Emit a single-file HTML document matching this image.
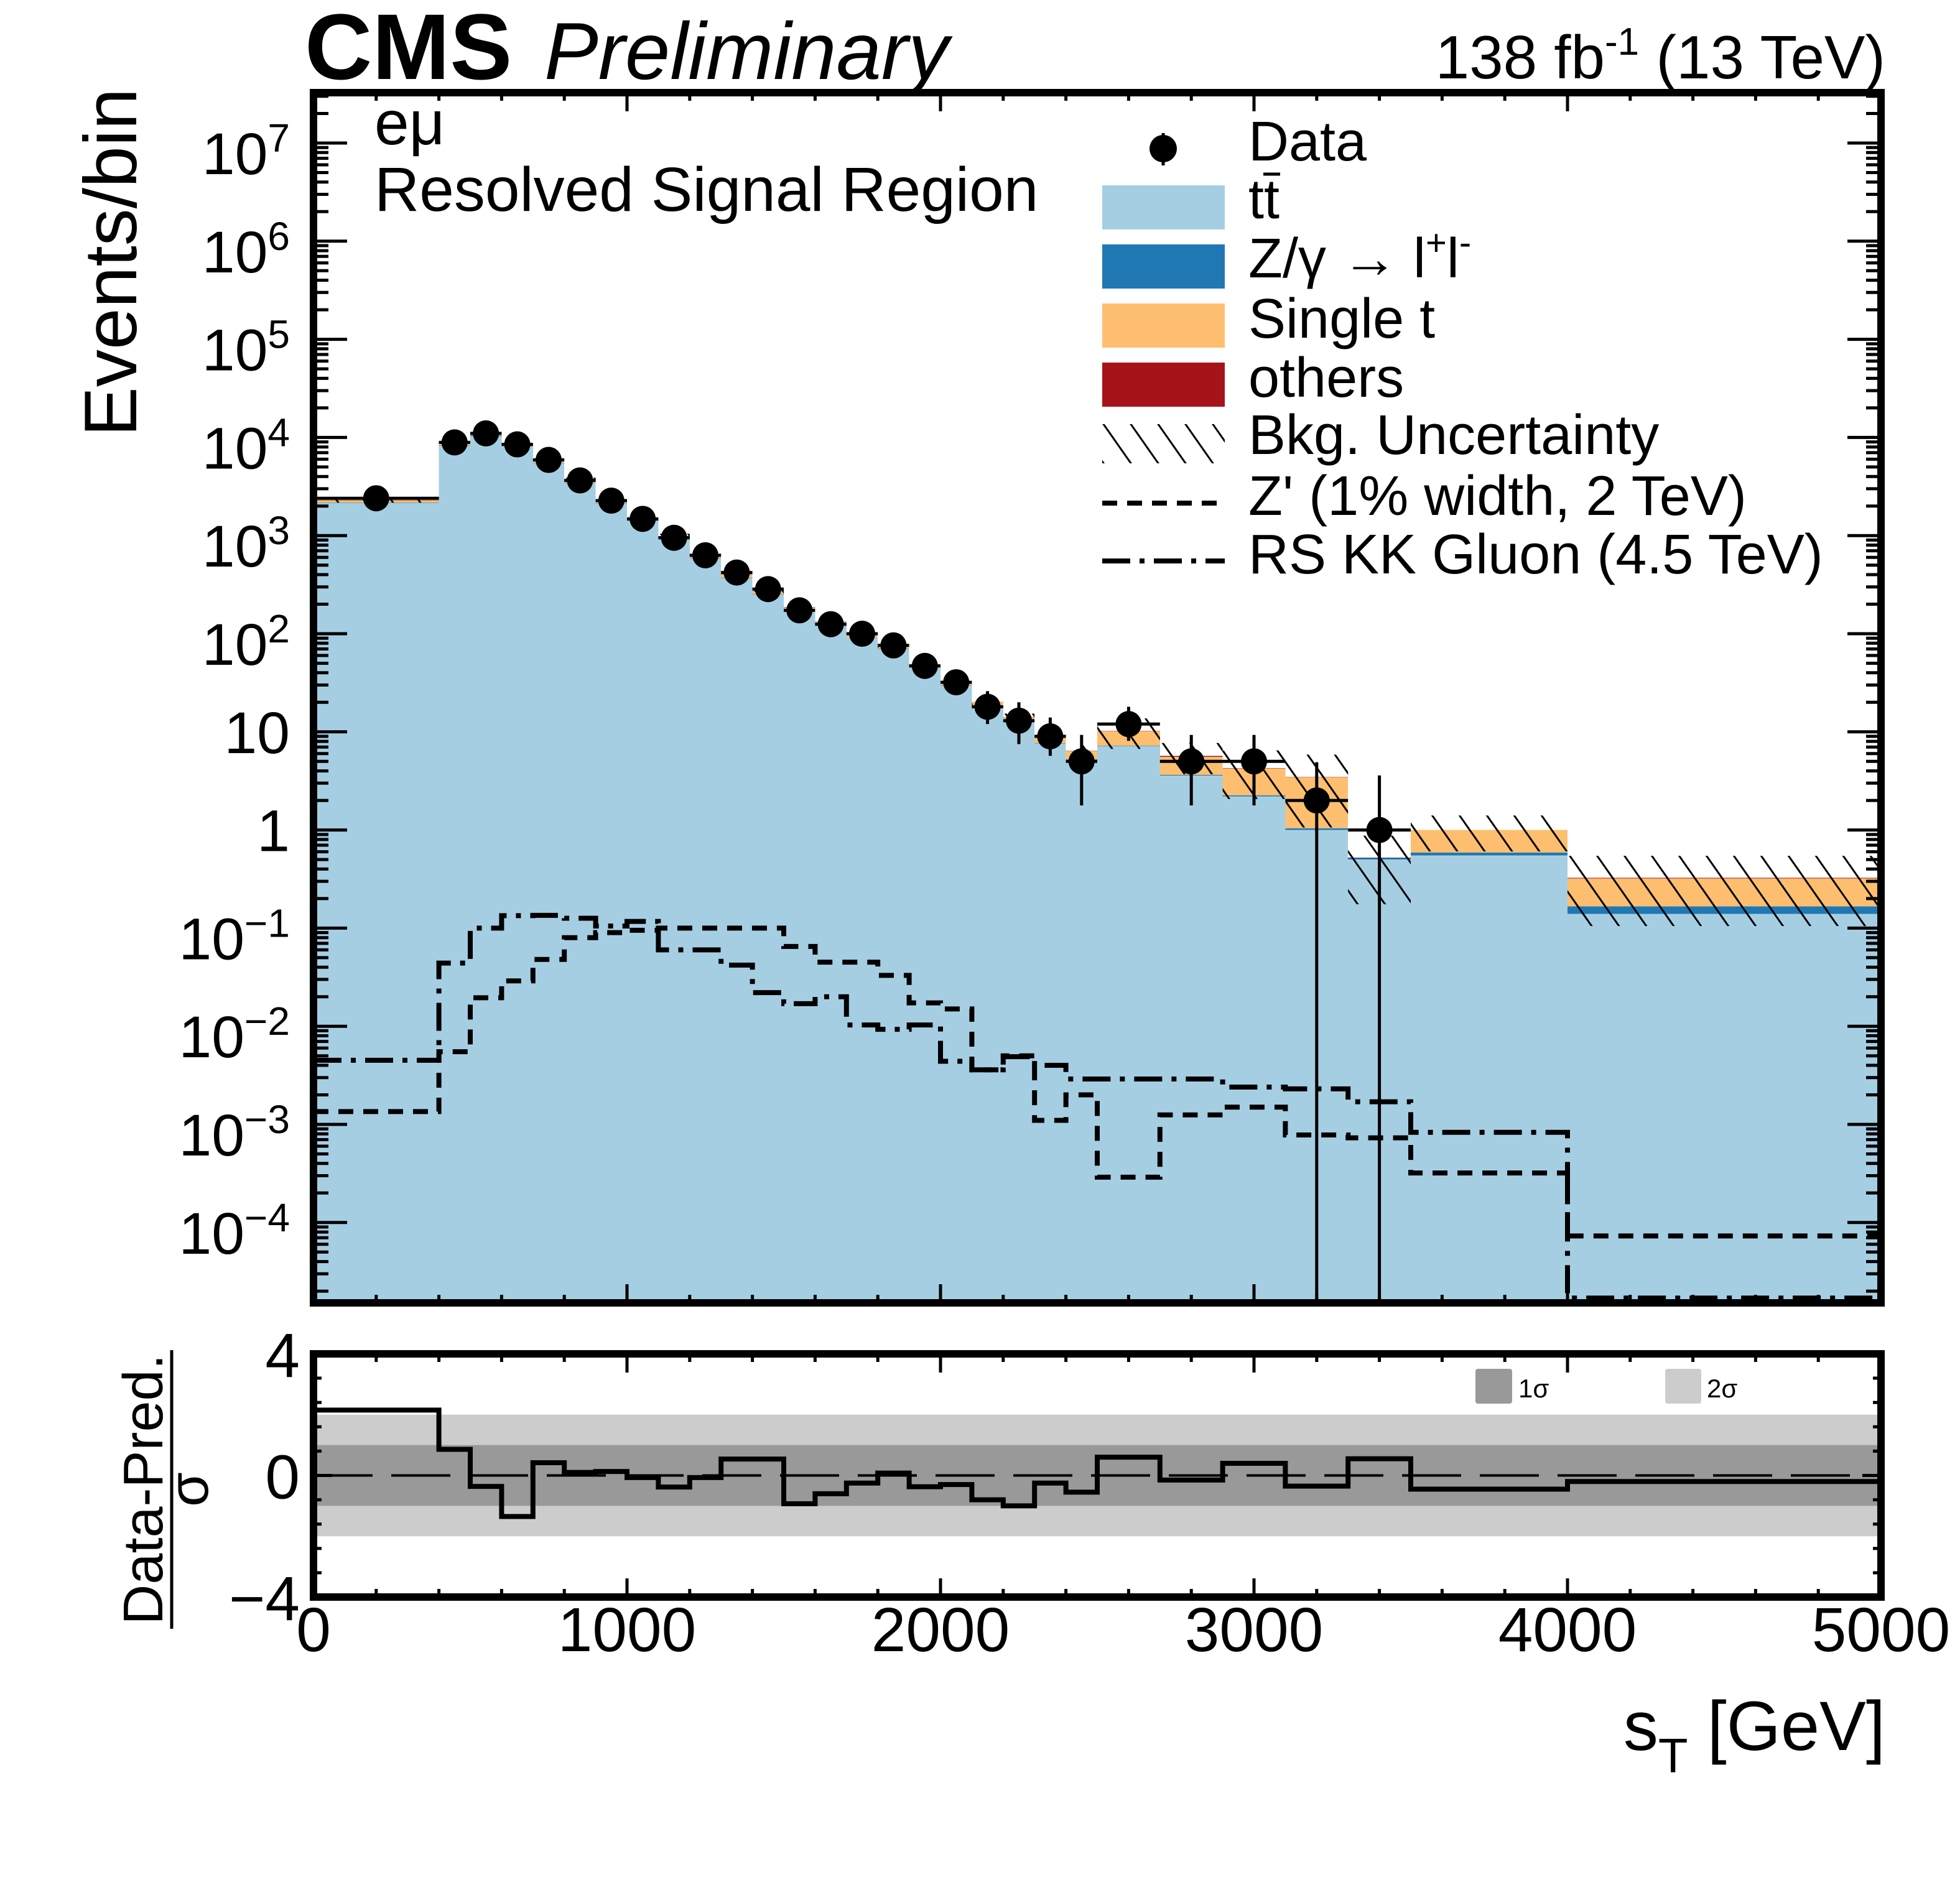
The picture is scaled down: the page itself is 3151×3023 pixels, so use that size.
<!DOCTYPE html>
<html><head><meta charset="utf-8"><title>CMS sT distribution</title>
<style>html,body{margin:0;padding:0;background:#fff}svg{display:block}text{font-family:"Liberation Sans",Arial,sans-serif;fill:#000}</style>
</head><body>
<svg id="chart" xmlns="http://www.w3.org/2000/svg" width="3151" height="3023" viewBox="0 0 3151 3023">
<defs>
<clipPath id="mainClip"><rect x="504" y="149" width="2520" height="1946"/></clipPath>
<clipPath id="ratioClip"><rect x="504" y="2177" width="2520" height="391"/></clipPath>
<pattern id="hatch" patternUnits="userSpaceOnUse" width="36" height="36" patternTransform="rotate(-35)"><line x1="18" y1="0" x2="18" y2="36" stroke="#000" stroke-width="3"/></pattern>
</defs>
<g id="mainLayer" clip-path="url(#mainClip)"></g>
<g id="ratioLayer" clip-path="url(#ratioClip)"></g>
<g id="axesLayer"></g>
<text x="490" y="127" font-size="150" font-weight="bold">CMS</text>
<text x="875" y="127" font-size="130" font-style="italic">Preliminary</text>
<text x="3031" y="126" font-size="98" text-anchor="end">138 fb<tspan font-size="62" dy="-38">-1</tspan><tspan dy="38"> (13 TeV)</tspan></text>
<text transform="translate(219,422) rotate(-90)" font-size="120" text-anchor="middle">Events/bin</text>
<text x="602" y="232" font-size="100">eμ</text>
<text x="602" y="339" font-size="100">Resolved Signal Region</text>
<g>
 <line x1="1870" y1="214" x2="1870" y2="266" stroke="#000" stroke-width="5"/>
 <circle cx="1870" cy="239" r="22" fill="#000"/>
 <text x="2007" y="258" font-size="90">Data</text>
 <rect x="1772" y="298" width="197" height="71" fill="#a6cee3"/>
 <text x="2007" y="351" font-size="90">tt</text>
 <line x1="2031" y1="280" x2="2058" y2="280" stroke="#000" stroke-width="5"/>
 <rect x="1772" y="393" width="197" height="71" fill="#1f78b4"/>
 <text x="2007" y="446" font-size="90">Z/γ  → l<tspan font-size="58" dy="-36">+</tspan><tspan dy="36">l</tspan><tspan font-size="58" dy="-36">-</tspan></text>
 <rect x="1772" y="488" width="197" height="71" fill="#fdbf6f"/>
 <text x="2007" y="543" font-size="90">Single t</text>
 <rect x="1772" y="583" width="197" height="71" fill="#a6141a"/>
 <text x="2007" y="638" font-size="90">others</text>
 <rect x="1772" y="682" width="197" height="63" fill="url(#hatch)"/>
 <text x="2007" y="730" font-size="90">Bkg. Uncertainty</text>
 <line x1="1772" y1="809" x2="1969" y2="809" stroke="#000" stroke-width="8" stroke-dasharray="24,16"/>
 <text x="2007" y="828" font-size="90">Z' (1% width, 2 TeV)</text>
 <line x1="1772" y1="902" x2="1969" y2="902" stroke="#000" stroke-width="8" stroke-dasharray="45,15,8,15"/>
 <text x="2007" y="922" font-size="90">RS KK Gluon (4.5 TeV)</text>
</g>
<g>
 <rect x="2372" y="2201" width="59" height="56" rx="4" fill="#999"/>
 <text x="2441" y="2247" font-size="42">1σ</text>
 <rect x="2677" y="2201" width="58" height="56" rx="4" fill="#ccc"/>
 <text x="2744" y="2247" font-size="42">2σ</text>
</g>
<g>
 <text transform="translate(261,2395) rotate(-90)" font-size="90" text-anchor="middle">Data-Pred.</text>
 <line x1="276" y1="2171" x2="276" y2="2619" stroke="#000" stroke-width="5"/>
 <text transform="translate(334,2395) rotate(-90)" font-size="90" text-anchor="middle">σ</text>
</g>
<text x="3031" y="2814" font-size="112" text-anchor="end">s<tspan font-size="78" dy="36">T</tspan><tspan dy="-36"> [GeV]</tspan></text>
</svg>
<script>
// ---- data ----
const binEdges = [0,400,500,600,700,800,900,1000,1100,1200,1300,1400,1500,1600,1700,1800,1900,2000,2100,2200,2300,2400,2500,2700,2900,3100,3300,3500,4000,5000];
const dataCounts = [2400,8900,11000,8500,5900,3650,2270,1480,950,630,420,285,173,125,100,76,47,32,18,13,9,5,12,5,5,2,1,null,null];
const dataErrUpBound = [null,null,null,null,null,null,null,null,null,null,null,null,null,null,null,null,null,null,26,20,14,9.3,18,9.3,9.3,4.9,3.6,null,null];
const dataErrLowBound = [null,null,null,null,null,null,null,null,null,null,null,null,null,null,null,null,null,null,12,7.5,5.7,1.78,8.1,1.78,1.78,0,0,null,null];
const ttbar = [2150,8200,10300,8100,5450,3420,2120,1400,920,590,370,250,172,122,92,70,45,29.5,18.5,12.5,7.6,5.2,7.2,3.6,2.2,1.0,0.50,0.55,0.14];
const zjets = [30,90,100,70,40,25,15,10,6,4,3,2,1.2,0.8,0.6,0.4,0.3,0.2,0.12,0.08,0.06,0.05,0.05,0.05,0.05,0.04,0.02,0.04,0.026];
const singleTop = [100,450,560,460,330,210,130,88,57,38,26,18,13,9.5,7,5.5,3.8,2.6,1.7,1.4,1.4,1.1,2.9,1.9,2.0,2.4,0,0.41,0.154];
const others = [25,60,70,55,35,22,14,9,6,4,2.5,1.7,1.1,0.8,0.6,0.45,0.3,0.2,0.12,0.08,0.06,0.05,0.05,0.15,0.02,0.02,0.005,0.005,0.005];
const bkgUnc = [140,500,600,480,330,210,130,85,55,37,25,17,11,8,6.5,5,3.3,2.3,1.6,1.3,1.1,0.9,3.5,2.0,2.2,2.4,0.35,0.4,0.22];
const zprime = [1.35e-3,5.5e-3,0.0195,0.029,0.048,0.080,0.09,0.095,0.1,0.1,0.1,0.1,0.065,0.045,0.045,0.033,0.0173,0.015,0.0036,0.005,0.0011,0.002,2.9e-4,1.25e-3,1.5e-3,7.8e-4,7.3e-4,3.2e-4,7.3e-5];
const rsGluon = [4.5e-3,0.044,0.10,0.134,0.135,0.126,0.105,0.117,0.06,0.06,0.042,0.022,0.017,0.02,0.0103,0.0093,0.0103,0.0044,0.0036,0.0049,0.004,0.0029,0.0029,0.0029,0.0024,0.0023,0.0017,8.3e-4,1.7e-5];
const pulls = [2.15,0.86,-0.36,-1.35,0.42,0.1,0.13,-0.07,-0.38,-0.07,0.54,0.54,-0.93,-0.6,-0.25,0.08,-0.37,-0.3,-0.8,-1.0,-0.25,-0.55,0.6,-0.15,0.4,-0.35,0.55,-0.45,-0.2];
const xTickLabels = ["0","1000","2000","3000","4000","5000"];
const yExponents = [7,6,5,4,3,2,1,0,-1,-2,-3,-4];
const ratioTickLabels = ["4","0","−4"];

// ---- axes ----
const L=504,Rr=3024,T=149,B=2095,RT=2177,RB=2568;
const X = v => L + v*(Rr-L)/5000;
const Y = v => 230 + (7 - Math.log10(v))*157.8;
const RY = v => 2372.5 - v*48.9;
const NS='http://www.w3.org/2000/svg';
function mk(tag, attrs, parent){const e=document.createElementNS(NS,tag);for(const k in attrs)e.setAttribute(k,attrs[k]);parent.appendChild(e);return e;}
const main=document.getElementById('mainLayer'), ratio=document.getElementById('ratioLayer'), axes=document.getElementById('axesLayer');
const n=ttbar.length;

// stacked background
const stacks=[[ttbar,'#a6cee3','ttbar'],[zjets,'#1f78b4','zjets'],[singleTop,'#fdbf6f','single-top'],[others,'#a6141a','others']];
const cum=new Array(n).fill(0);
stacks.forEach(([arr,col,name])=>{
  for(let i=0;i<n;i++){
    const lo=cum[i], hi=cum[i]+arr[i]; cum[i]=hi;
    if(arr[i]<=0) continue;
    const y1=Y(hi), y0= lo>0?Y(lo):B+20;
    const r=mk('rect',{x:X(binEdges[i]),y:y1,width:X(binEdges[i+1])-X(binEdges[i]),height:Math.max(0,y0-y1),fill:col,'shape-rendering':'crispEdges'},main);
    
    
  }
});
// uncertainty hatch
for(let i=0;i<n;i++){
  const up=cum[i]+bkgUnc[i], dn=cum[i]-bkgUnc[i];
  const y1=Y(up), y0= dn>0?Y(dn):B+20;
  const h=mk('rect',{x:X(binEdges[i]),y:y1,width:X(binEdges[i+1])-X(binEdges[i]),height:y0-y1,fill:'url(#hatch)'},main);
  
  
}
// signal lines
function stepPath(vals){let d='M'+X(binEdges[0])+','+Y(vals[0]);for(let i=0;i<vals.length;i++){if(i>0)d+=' V'+Y(vals[i]);d+=' H'+X(binEdges[i+1]);}return d;}
const zp=mk('path',{d:stepPath(zprime),fill:'none',stroke:'#000','stroke-width':8,'stroke-dasharray':'24,16'},main);


const rs=mk('path',{d:stepPath(rsGluon),fill:'none',stroke:'#000','stroke-width':8,'stroke-dasharray':'45,15,8,15'},main);


// data points
for(let i=0;i<n;i++){
  const v=dataCounts[i]; if(v==null) continue;
  const cx=X((binEdges[i]+binEdges[i+1])/2), cy=Y(v);
  const hi = dataErrUpBound[i]!=null?dataErrUpBound[i]:v+Math.sqrt(v);
  const lo = dataErrLowBound[i]!=null?dataErrLowBound[i]:v-Math.sqrt(v);
  const g=mk('g',{},main);
  
  
  mk('line',{x1:cx,x2:cx,y1:Y(hi),y2:lo>0?Y(lo):B+20,stroke:'#000','stroke-width':5},g);
  mk('line',{x1:X(binEdges[i]),x2:X(binEdges[i+1]),y1:cy,y2:cy,stroke:'#000','stroke-width':5},g);
  mk('circle',{cx:cx,cy:cy,r:21,fill:'#000'},g);
}
// ratio panel
const b2=mk('rect',{x:L,y:RY(2),width:Rr-L,height:RY(-2)-RY(2),fill:'#ccc'},ratio);


const b1=mk('rect',{x:L,y:RY(1),width:Rr-L,height:RY(-1)-RY(1),fill:'#999'},ratio);


const zl=mk('line',{x1:L,x2:Rr,y1:RY(0),y2:RY(0),stroke:'#000','stroke-width':4,'stroke-dasharray':'95,30'},ratio);


let pd='M'+X(binEdges[0])+','+RY(pulls[0]);
for(let i=0;i<pulls.length;i++){if(i>0)pd+=' V'+RY(pulls[i]);pd+=' H'+X(binEdges[i+1]);}
const pp=mk('path',{d:pd,fill:'none',stroke:'#000','stroke-width':8},ratio);



// ticks
function tick(x1,y1,x2,y2){mk('line',{x1,y1,x2,y2,stroke:'#000','stroke-width':5},axes);}
for(let v=0;v<=5000;v+=200){
  const x=X(v), major=v%1000===0;
  const lm=major?30:13;
  tick(x,B,x,B-lm); tick(x,T,x,T+lm);
  tick(x,RB,x,RB-lm); tick(x,RT,x,RT+lm);
}
const logTop=7+(230-T)/157.8, logBot=7-(B-230)/157.8;
for(let d=-5;d<=7;d++){
  for(let m=1;m<=9;m++){
    const lv=d+Math.log10(m); if(lv<logBot||lv>logTop) continue;
    const y=Y(Math.pow(10,lv)); const lm=m===1?54:24;
    tick(L,y,L+lm,y); tick(Rr,y,Rr-lm,y);
  }
}
for(let k=0;k<=10;k++){const v=-4+k*0.8;const y=RY(v);const lm=(Math.abs(v)<1e-6||Math.abs(v)>3.99)?30:13;tick(L,y,L+lm,y);tick(Rr,y,Rr-lm,y);}
// frames
const f1=mk('rect',{x:L,y:T,width:Rr-L,height:B-T,fill:'none',stroke:'#000','stroke-width':12},axes);


const f2=mk('rect',{x:L,y:RT,width:Rr-L,height:RB-RT,fill:'none',stroke:'#000','stroke-width':12},axes);


// labels
xTickLabels.forEach((s,i)=>{
  const t=mk('text',{x:X(i*1000),y:2655,'font-size':100,'text-anchor':'middle'},axes);
  t.textContent=s;
  
  
});
yExponents.forEach(e=>{
  const y=Y(Math.pow(10,e));
  const t=mk('text',{x:466,'font-size':95,'text-anchor':'end'},axes);
  
  
  if(e===0){t.setAttribute('y',y+34);t.textContent='1';}
  else if(e===1){t.setAttribute('y',y+34);t.textContent='10';}
  else{
    t.setAttribute('y',y+50);
    const a=document.createElementNS(NS,'tspan');a.textContent='10';t.appendChild(a);
    const s=document.createElementNS(NS,'tspan');s.setAttribute('font-size','64');s.setAttribute('dy','-36');
    s.textContent=e<0?'−'+(-e):String(e);t.appendChild(s);
  }
});
ratioTickLabels.forEach((s,i)=>{
  const v=[4,0,-4][i];
  const t=mk('text',{x:482,y:RY(v)+37,'font-size':100,'text-anchor':'end'},axes);
  t.textContent=s;
  
  
});
</script>
</body></html>
